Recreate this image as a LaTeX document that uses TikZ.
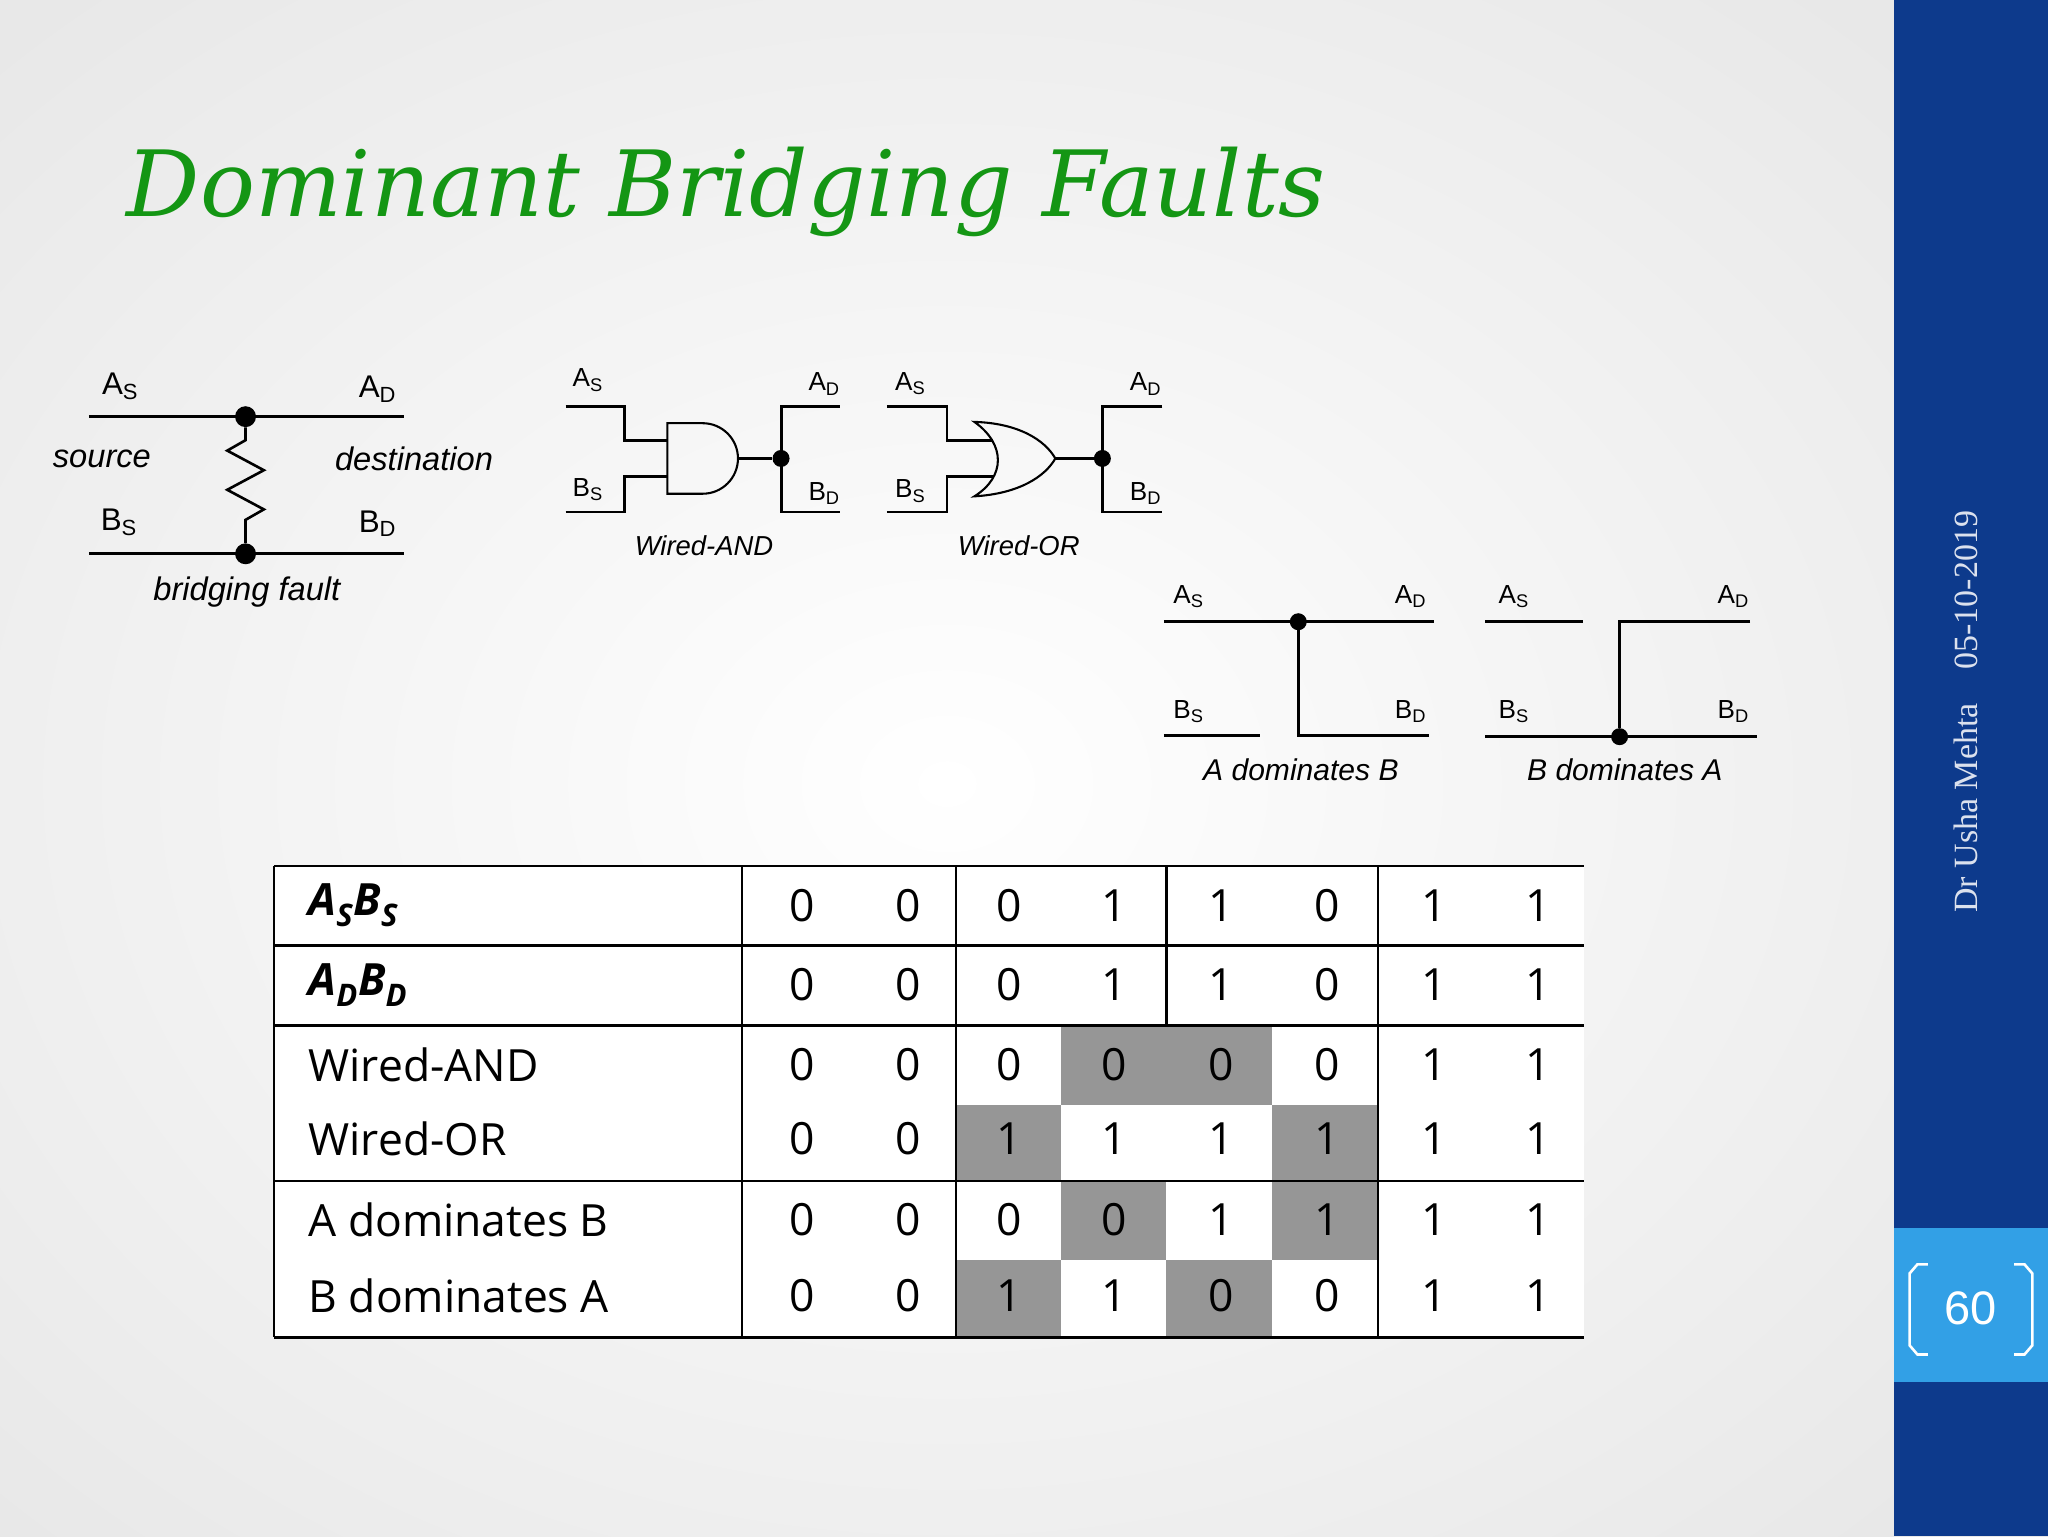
\documentclass[tikz,border=0pt]{standalone}
\usepackage{fontspec}
\setmainfont{Liberation Sans}
\newfontfamily\titlefont{DejaVu Serif}
\newfontfamily\tabfont{Open Sans}
\newfontfamily\datefont{Liberation Serif}
\definecolor{ttl}{RGB}{20,150,20}
\definecolor{band}{RGB}{13,58,140}
\definecolor{lband}{RGB}{50,160,230}
\definecolor{cellg}{RGB}{150,150,150}
\tikzset{
 lbl/.style={font=\fontsize{20}{22}\selectfont, inner sep=0},
 capt/.style={font=\fontsize{23}{25}\selectfont\itshape, inner sep=0},
 wire/.style={line width=2.2pt},
 dot/.style={circle, fill=black, inner sep=0, minimum size=16pt},
 tcell/.style={font=\tabfont\fontsize{34}{36}\selectfont, inner sep=0},
 thead/.style={font=\tabfont\bfseries\itshape\fontsize{34}{36}\selectfont, inner sep=0, anchor=west},
 tline/.style={line width=1.8pt},
}
\begin{document}
\begin{tikzpicture}[x=1pt,y=-1pt]
\useasboundingbox (0,0) rectangle (1568,1176);
\shade[inner color=white, outer color=gray!18] (-300,-200) rectangle (1750,1400);
\fill[band] (1450,0) rectangle (1568,1176);
\fill[lband] (1450,940) rectangle (1568,1058);
\node[text=white, font=\fontsize{36}{38}\selectfont] (pg) at (1509,1002) {60};
\draw[white, line width=2pt] (1476,968) -- (1468,968) -- (1462,975) -- (1462,1030) -- (1468,1037) -- (1476,1037);
\draw[white, line width=2pt] (1542,968) -- (1550,968) -- (1556,975) -- (1556,1030) -- (1550,1037) -- (1542,1037);
\node[rotate=90, text=white!85!band, font=\datefont\fontsize{26}{28}\selectfont] (dt) at (1505,545) {Dr Usha Mehta\hspace{26pt}05-10-2019};
\node[anchor=west, text=ttl, font=\titlefont\itshape\fontsize{70}{74}\selectfont, inner sep=0] (title) at (97,147) {Dominant Bridging Faults};

% bridging fault
\node[dot] (d1) at (188,319) {};
\node[dot] (d2) at (188,424) {};
\draw[wire] (68,319) -- (309,319);
\draw[wire] (68,424) -- (309,424);
\draw[line width=2pt] (d1) -- (188,337) -- (174,345) -- (202,360) -- (174,375) -- (202,390) -- (188,398) -- (d2);
\node[lbl, font=\fontsize{24}{26}\selectfont] at (92,296) {A\textsubscript{S}};
\node[lbl, font=\fontsize{24}{26}\selectfont] at (289,298) {A\textsubscript{D}};
\node[capt, font=\fontsize{25}{27}\selectfont\itshape] at (78,351) {source};
\node[capt, font=\fontsize{25}{27}\selectfont\itshape] at (317,351) {destination};
\node[lbl, font=\fontsize{24}{26}\selectfont] at (91,400) {B\textsubscript{S}};
\node[lbl, font=\fontsize{24}{26}\selectfont] at (289,401) {B\textsubscript{D}};
\node[capt, font=\fontsize{25}{27}\selectfont\itshape] at (189,453) {bridging fault};

% wired-AND
\draw[wire] (433,311) -- (478,311) -- (478,337) -- (511,337);
\draw[wire] (433,392) -- (478,392) -- (478,365) -- (511,365);
\draw[line width=1.6pt] (511,324) -- (538,324) arc (-90:90:27) -- (511,378) -- cycle;
\node[dot, minimum size=13pt] (d3) at (598,351) {};
\draw[line width=1.6pt] (565,351) -- (d3);
\draw[wire] (643,311) -- (598,311) -- (598,392) -- (643,392);
\node[lbl] at (450,291) {A\textsubscript{S}};
\node[lbl] at (631,294) {A\textsubscript{D}};
\node[lbl] at (450,375) {B\textsubscript{S}};
\node[lbl] at (631,378) {B\textsubscript{D}};
\node[capt, font=\fontsize{21}{23}\selectfont\itshape] at (539,418) {Wired-AND};

% wired-OR
\draw[wire] (679,311) -- (725,311) -- (725,337) -- (760,337);
\draw[wire] (679,392) -- (725,392) -- (725,365) -- (760,365);
\draw[line width=1.6pt] (746,323) .. controls (770,340) and (770,365) .. (746,380)
  .. controls (780,378) and (800,365) .. (808,351)
  .. controls (800,337) and (780,324) .. (746,323) -- cycle;
\node[dot, minimum size=13pt] (d4) at (844,351) {};
\draw[line width=1.6pt] (808,351) -- (d4);
\draw[wire] (890,311) -- (844,311) -- (844,392) -- (890,392);
\node[lbl] at (697,294) {A\textsubscript{S}};
\node[lbl] at (877,294) {A\textsubscript{D}};
\node[lbl] at (697,376) {B\textsubscript{S}};
\node[lbl] at (877,378) {B\textsubscript{D}};
\node[capt, font=\fontsize{21}{23}\selectfont\itshape] at (780,418) {Wired-OR};

% A dominates B
\node[dot, minimum size=13pt] (d5) at (994,476) {};
\draw[wire] (891,476) -- (1098,476);
\draw[wire] (d5) -- (994,563) -- (1094,563);
\draw[wire] (891,563) -- (965,563);
\node[lbl] at (910,457) {A\textsubscript{S}};
\node[lbl] at (1080,457) {A\textsubscript{D}};
\node[lbl] at (910,545) {B\textsubscript{S}};
\node[lbl] at (1080,545) {B\textsubscript{D}};
\node[capt] at (996,589) {A dominates B};

% B dominates A
\node[dot, minimum size=13pt] (d6) at (1240,564) {};
\draw[wire] (1137,476) -- (1212,476);
\draw[wire] (1340,476) -- (1240,476) -- (d6);
\draw[wire] (1137,564) -- (1345,564);
\node[lbl] at (1159,457) {A\textsubscript{S}};
\node[lbl] at (1327,457) {A\textsubscript{D}};
\node[lbl] at (1159,545) {B\textsubscript{S}};
\node[lbl] at (1327,545) {B\textsubscript{D}};
\node[capt] at (1244,589) {B dominates A};

% table
\fill[white] (210,663) rectangle (1213,1024);
\fill[cellg] (812,785) rectangle (974,846);
\fill[cellg] (732,846) rectangle (812,904);
\fill[cellg] (974,846) rectangle (1055,904);
\fill[cellg] (812,904) rectangle (893,965);
\fill[cellg] (974,904) rectangle (1055,965);
\fill[cellg] (732,965) rectangle (812,1024);
\fill[cellg] (893,965) rectangle (974,1024);
\foreach \y in {663,724,785,904,1024} \draw[tline] (210,\y) -- (1213,\y);
\foreach \x in {210,568,732,1055} \draw[tline] (\x,663) -- (\x,1024);
\draw[tline] (893,663) -- (893,785);
\node[thead] (h1) at (236,693) {A\textsubscript{S}B\textsubscript{S}};
\node[thead] (h2) at (236,754) {A\textsubscript{D}B\textsubscript{D}};
\node[tcell, anchor=west] (h3) at (236,815) {Wired-AND};
\node[tcell, anchor=west] (h4) at (236,872) {Wired-OR};
\node[tcell, anchor=west] (h5) at (236,934) {A dominates B};
\node[tcell, anchor=west] (h6) at (236,992) {B dominates A};
\foreach \y/\a/\b/\c/\d/\e/\f/\g/\h in {693/0/0/0/1/1/0/1/1,754/0/0/0/1/1/0/1/1,815/0/0/0/0/0/0/1/1,872/0/0/1/1/1/1/1/1,934/0/0/0/0/1/1/1/1,992/0/0/1/1/0/0/1/1}{
  \foreach \xx/\v in {614/\a,695/\b,773/\c,853/\d,935/\e,1016/\f,1098/\g,1178/\h}
    \node[tcell] at (\xx,\y) {\v};
}
\end{tikzpicture}
\end{document}
